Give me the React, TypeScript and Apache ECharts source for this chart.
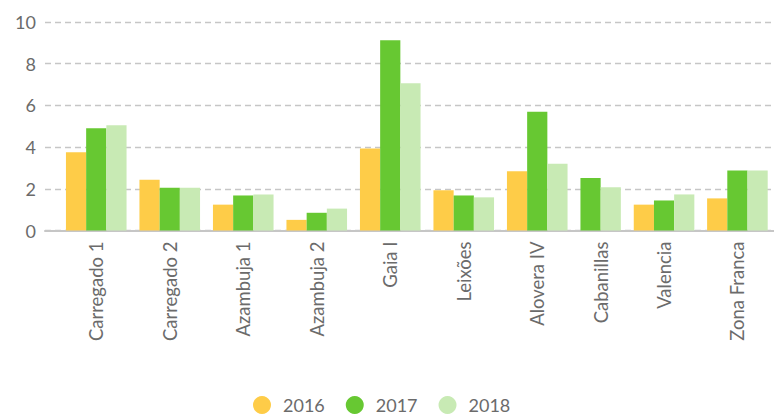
import React, { useEffect, useRef } from "react";
import * as echarts from "echarts";

const categories = [
  "Carregado 1",
  "Carregado 2",
  "Azambuja 1",
  "Azambuja 2",
  "Gaia I",
  "Leixões",
  "Alovera IV",
  "Cabanillas",
  "Valencia",
  "Zona Franca",
];
const seriesNames = ["2016", "2017", "2018"];
const values2016: (number | null)[] = [3.75, 2.43, 1.24, 0.51, 3.93, 1.93, 2.84, null, 1.24, 1.54];
const values2017: (number | null)[] = [4.9, 2.05, 1.68, 0.85, 9.13, 1.68, 5.69, 2.52, 1.44, 2.88];
const values2018: (number | null)[] = [5.05, 2.05, 1.73, 1.05, 7.06, 1.59, 3.2, 2.07, 1.73, 2.88];
const yTicks = [0, 2, 4, 6, 8, 10];

const colors = ["#FECC48", "#67C832", "#C8EAB4"];
const textColor = "#6b6b6b";
const gridColor = "#c6c6c6";
const font = "Lato";

const BAR_W = 20.2;
const GROUP_GAP = 12.9;
const START_X = 59.5;
const TOP = 22;
const BOTTOM = 184.5;

export default function App() {
  const ref = useRef<HTMLDivElement>(null);
  useEffect(() => {
    if (!ref.current) return;
    const chart = echarts.init(ref.current, null, { renderer: "svg" });
    const all = [values2016, values2017, values2018];
    const yMax = yTicks[yTicks.length - 1];

    const grids: any[] = [{ left: 45, right: 0, top: TOP, bottom: BOTTOM }];
    const xAxes: any[] = [
      {
        type: "value",
        gridIndex: 0,
        min: 0,
        max: 1,
        axisLine: { show: true, onZero: false, lineStyle: { color: gridColor, width: 2 } },
        axisTick: { show: false },
        axisLabel: { show: false },
        splitLine: { show: false },
      },
    ];
    const yAxes: any[] = [
      {
        type: "value",
        gridIndex: 0,
        min: 0,
        max: yMax,
        interval: 2,
        axisLine: { show: false },
        axisTick: { show: false },
        axisLabel: { fontSize: 18, color: textColor, fontFamily: font, margin: 9 },
        splitLine: { lineStyle: { color: gridColor, type: [6, 4], width: 1.3 } },
      },
    ];
    const series: any[] = [];

    // each category gets a slot whose width depends on how many bars it holds
    let x = START_X;
    categories.forEach((cat, i) => {
      const present = all.map((a, s) => ({ s, v: a[i] })).filter((d) => d.v != null);
      const w = present.length * BAR_W + GROUP_GAP;
      const gi = grids.length;
      grids.push({ left: x, width: w, top: TOP, bottom: BOTTOM });
      x += w;
      xAxes.push({
        type: "category",
        gridIndex: gi,
        data: [cat],
        axisLine: { show: false },
        axisTick: { show: false },
        axisLabel: {
          rotate: 90,
          interval: 0,
          margin: 11,
          fontSize: 18.5,
          color: textColor,
          fontFamily: font,
        },
      });
      yAxes.push({
        type: "value",
        gridIndex: gi,
        min: 0,
        max: yMax,
        interval: 2,
        show: false,
        splitLine: { show: false },
      });
      present.forEach(({ s, v }) => {
        series.push({
          name: seriesNames[s],
          type: "bar",
          xAxisIndex: gi,
          yAxisIndex: gi,
          barWidth: BAR_W,
          barGap: "0%",
          itemStyle: { color: colors[s] },
          data: [v],
        });
      });
    });

    chart.setOption({
      animation: false,
      textStyle: { fontFamily: font },
      grid: grids,
      legend: {
        data: seriesNames,
        icon: "circle",
        itemWidth: 18,
        itemHeight: 18,
        itemGap: 21,
        padding: 0,
        left: 253,
        top: 396,
        textStyle: { fontSize: 18, color: textColor, fontFamily: font, padding: [0, 0, 0, 7] },
      },
      xAxis: xAxes,
      yAxis: yAxes,
      series,
    });
    return () => chart.dispose();
  }, []);
  return <div ref={ref} style={{ width: 774, height: 415, position: "absolute", left: 0, top: 0 }} />;
}
